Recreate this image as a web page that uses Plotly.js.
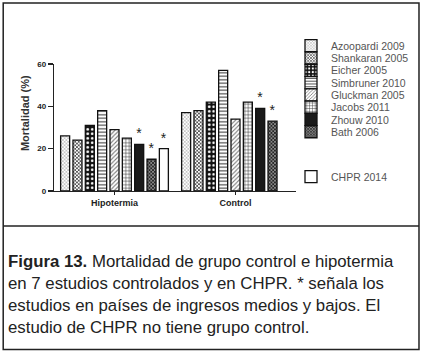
<!DOCTYPE html>
<html>
<head>
<meta charset="utf-8">
<script src="https://cdn.plot.ly/plotly-3.0.1.min.js"></script>
<style>
html,body{margin:0;padding:0;background:#fff;}
#chart{width:425px;height:354px;}
</style>
</head>
<body>
<div id="chart"></div>
<script>
// ---- data ----
const groups = ["Hipotermia", "Control"];
const studies = ["Azoopardi 2009", "Shankaran 2005", "Eicher 2005", "Simbruner 2010",
                 "Gluckman 2005", "Jacobs 2011", "Zhouw 2010", "Bath 2006", "CHPR 2014"];
const hipotermia = [26, 24, 31, 38, 29, 25, 22, 15, 20];
const control    = [37, 38, 42, 57, 34, 42, 39, 33, null];
const lowIncome  = [false, false, false, false, false, false, true, true, true];
const yTicks = [0, 20, 40, 60];
const yTitle = "Mortalidad (%)";
const caption = "<b>Figura 13.</b> Mortalidad de grupo control e hipotermia<br>en 7 estudios controlados y en CHPR. * señala los<br>estudios en países de ingresos medios y bajos. El<br>estudio de CHPR no tiene grupo control.";

// ---- styles ----
const patterns = [
  {shape: "x", fgcolor: "#999", bgcolor: "#fff", size: 2.5, solidity: 0.35},
  {shape: "x", fgcolor: "#333", bgcolor: "#fff", size: 2.5, solidity: 0.5},
  {shape: ".", fgcolor: "#fff", bgcolor: "#111", size: 4.5, solidity: 0.3},
  {shape: "-", fgcolor: "#333", bgcolor: "#fff", size: 3.5, solidity: 0.3},
  {shape: "/", fgcolor: "#777", bgcolor: "#fff", size: 3, solidity: 0.35},
  {shape: "+", fgcolor: "#333", bgcolor: "#fff", size: 3.5, solidity: 0.3},
  {shape: "", fgcolor: "#1a1a1a", bgcolor: "#1a1a1a", size: 4, solidity: 0.3},
  {shape: "x", fgcolor: "#111", bgcolor: "#888", size: 2.5, solidity: 0.5},
  {shape: "", fgcolor: "#fff", bgcolor: "#fff", size: 4, solidity: 0.3}
];
const solid = ["#fff","#fff","#111","#fff","#fff","#fff","#1a1a1a","#888","#fff"];

// pixel helpers for layout placement (plot area: x 54..297, y 64..191)
const L = 54, R = 297, T = 64, B = 191;
const px = x => (x - L) / (R - L);
const py = y => (B - y) / (B - T);

const FONT = "Liberation Sans, Arial, sans-serif";
const traces = studies.map((name, i) => {
  const pat = patterns[i];
  const marker = {
    color: solid[i],
    line: {color: "#111", width: 1.3}
  };
  if (pat.shape) marker.pattern = {shape: pat.shape, fgcolor: pat.fgcolor, bgcolor: pat.bgcolor,
                                   size: pat.size, solidity: pat.solidity, fillmode: "replace"};
  const star = lowIncome[i] ? "*" : "";
  return {
    type: "bar",
    name: name,
    x: groups,
    y: [hipotermia[i], control[i]],
    marker: marker,
    text: [star, control[i] === null ? "" : star],
    textposition: "outside",
    textfont: {family: FONT, size: 14, color: "#222"},
    constraintext: "none",
    cliponaxis: false,
    legend: i === 0 ? "legend" : "legend" + (i + 1),
    hoverinfo: "skip"
  };
});

const legendFont = {family: FONT, size: 10.5, color: "#555"};
const legendY = i => (i < 8 ? 45.7 + i * 12.29 : 176.7);
const layout = {
  width: 425, height: 354,
  margin: {l: L, r: 425 - R, t: T, b: 354 - B, pad: 0},
  paper_bgcolor: "#fff", plot_bgcolor: "#fff",
  barmode: "group", bargap: 0.082, bargroupgap: 0.27,
  showlegend: true,
  xaxis: {
    type: "category", range: [-0.5, 1.5],
    showline: true, linecolor: "#222", linewidth: 1.3,
    ticks: "outside", ticklen: 3, tickwidth: 1.2, tickcolor: "#222",
    tickfont: {family: FONT, size: 9, color: "#222", weight: "bold"},
    showgrid: false, zeroline: false, fixedrange: true
  },
  yaxis: {
    range: [0, 60], tickvals: yTicks, ticktext: yTicks.map(String),
    showline: true, linecolor: "#222", linewidth: 1.3,
    ticks: "outside", ticklen: 5, tickwidth: 1.2, tickcolor: "#222",
    tickfont: {family: FONT, size: 8, color: "#222", weight: "bold"},
    showgrid: false, zeroline: false, fixedrange: true
  },
  annotations: [
    {text: yTitle, xref: "paper", yref: "paper", x: px(25), y: py(113), textangle: -90,
     showarrow: false, xanchor: "center", yanchor: "middle",
     font: {family: FONT, size: 11, color: "#333", weight: "bold"}},
    {text: caption, xref: "paper", yref: "paper", x: px(6), y: py(249.5), xanchor: "left", yanchor: "top",
     align: "left", showarrow: false,
     font: {family: FONT, size: 16.8, color: "#222"}}
  ],
  shapes: [
    {type: "rect", xref: "paper", yref: "paper", x0: px(3), x1: px(420.5), y0: py(3), y1: py(349.5),
     line: {color: "#222", width: 1.5}, fillcolor: "rgba(0,0,0,0)"},
    {type: "line", xref: "paper", yref: "paper", x0: px(3), x1: px(420.5), y0: py(226), y1: py(226),
     line: {color: "#222", width: 1.5}}
  ]
};
studies.forEach((s, i) => {
  const key = i === 0 ? "legend" : "legend" + (i + 1);
  layout[key] = {
    x: px(291), y: py(legendY(i)), xanchor: "left", yanchor: "middle",
    bgcolor: "rgba(0,0,0,0)", borderwidth: 0, font: legendFont,
    itemclick: false, itemdoubleclick: false
  };
});

Plotly.newPlot("chart", traces, layout, {staticPlot: true, displayModeBar: false});
</script>
</body>
</html>
